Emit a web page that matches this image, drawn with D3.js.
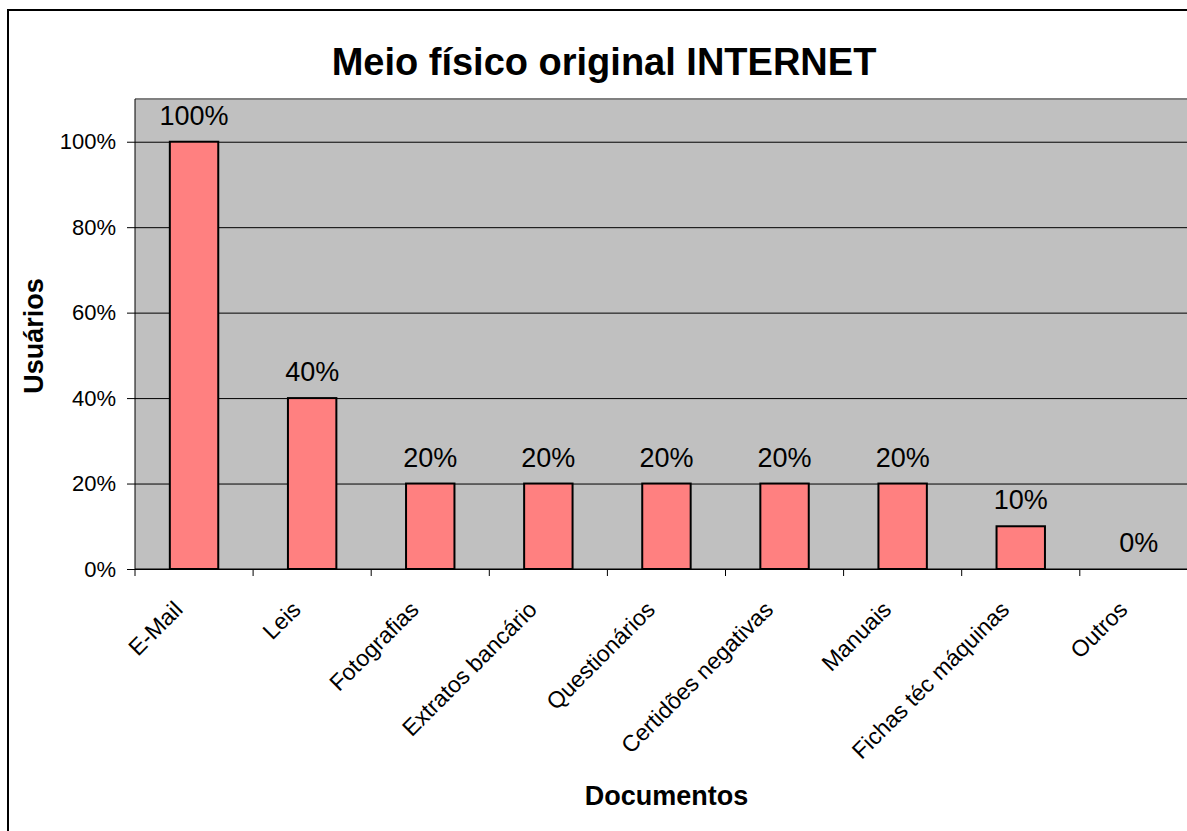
<!DOCTYPE html>
<html>
<head>
<meta charset="utf-8">
<script src="https://cdn.jsdelivr.net/npm/d3@7/dist/d3.min.js"></script>
<style>
  html, body { margin: 0; padding: 0; background: #fff; overflow: hidden; }
  svg { display: block; font-family: "Liberation Sans", Arial, sans-serif; }
</style>
</head>
<body>
<svg id="chart" width="1187" height="831"></svg>
<script>
const categories = ["E-Mail", "Leis", "Fotografias", "Extratos bancário", "Questionários",
                    "Certidões negativas", "Manuais", "Fichas téc máquinas", "Outros"];
const values = [1.00, 0.40, 0.20, 0.20, 0.20, 0.20, 0.20, 0.10, 0.00];
const yTicks = [0, 0.2, 0.4, 0.6, 0.8, 1.0];
const titleText = "Meio físico original INTERNET";
const yTitle = "Usuários";
const xTitle = "Documentos";

(function () {
const svg = d3.select("#chart");

// outer chart border
svg.append("rect").attr("x", 8).attr("y", 10).attr("width", 1300).attr("height", 1000)
  .attr("fill", "#fff").attr("stroke", "#000").attr("stroke-width", 2);

const pLeft = 135, pTop = 99, pBottom = 569;
const bandW = 118.1;
const pRight = pLeft + bandW * categories.length;

const x = d3.scaleBand().domain(categories).range([pLeft, pRight]).padding(0);
const y = d3.scaleLinear().domain([0, 1.1]).range([pBottom, pTop]);

// plot area
svg.append("rect").attr("x", pLeft).attr("y", pTop).attr("width", pRight - pLeft).attr("height", pBottom - pTop)
  .attr("fill", "#c0c0c0");
svg.append("line").attr("x1", pLeft).attr("x2", pRight).attr("y1", pTop).attr("y2", pTop)
  .attr("stroke", "#808080").attr("stroke-width", 2);

// gridlines
svg.append("g").attr("transform", `translate(${pLeft},0)`)
  .call(d3.axisLeft(y).tickValues(yTicks).tickSize(-(pRight - pLeft)).tickFormat(""))
  .call(g => g.select(".domain").remove())
  .call(g => g.selectAll("line").attr("stroke", "#000").attr("stroke-width", 1));

// y axis
svg.append("g").attr("transform", `translate(${pLeft},0)`)
  .call(d3.axisLeft(y).tickValues(yTicks).tickSize(8).tickPadding(11).tickFormat(d3.format(".0%")))
  .call(g => g.select(".domain").attr("d", `M0,${pTop}V${pBottom}`).attr("stroke", "#000"))
  .call(g => g.selectAll("line").attr("stroke", "#000"))
  .call(g => g.selectAll("text").attr("font-size", 22).attr("fill", "#000")
    .attr("font-family", "'Liberation Sans', Arial, sans-serif"));

// x axis line and boundary ticks
svg.append("line").attr("x1", pLeft).attr("x2", pRight).attr("y1", pBottom).attr("y2", pBottom)
  .attr("stroke", "#000").attr("stroke-width", 1);
const bounds = categories.map(c => x(c)).concat([x(categories[categories.length - 1]) + x.bandwidth()]);
svg.append("g").selectAll("line").data(bounds).join("line")
  .attr("x1", d => d).attr("x2", d => d).attr("y1", pBottom).attr("y2", pBottom + 7)
  .attr("stroke", "#000").attr("stroke-width", 1);

// bars
const barW = x.bandwidth() * 0.41;
const rows = categories.map((c, i) => ({c, v: values[i]}));
svg.append("g").selectAll("rect").data(rows.filter(d => d.v > 0))
  .join("rect")
  .attr("x", d => x(d.c) + x.bandwidth() / 2 - barW / 2)
  .attr("y", d => y(d.v))
  .attr("width", barW)
  .attr("height", d => y(0) - y(d.v))
  .attr("fill", "#ff8080").attr("stroke", "#000").attr("stroke-width", 2);

// value labels
svg.append("g").selectAll("text").data(rows)
  .join("text")
  .attr("x", d => x(d.c) + x.bandwidth() / 2)
  .attr("y", d => y(d.v) - 17)
  .attr("text-anchor", "middle").attr("font-size", 27).attr("fill", "#000")
  .text(d => d3.format(".0%")(d.v));

// category labels
svg.append("g").selectAll("text").data(categories).join("text")
  .attr("transform", d => `translate(${x(d) + x.bandwidth() / 2 - 10},${pBottom + 42}) rotate(-45)`)
  .attr("text-anchor", "end").attr("font-size", 23).attr("fill", "#000")
  .text(d => d);

// title
svg.append("text").attr("x", 604).attr("y", 75).attr("text-anchor", "middle")
  .attr("font-size", 38).attr("font-weight", "bold").text(titleText);

// axis titles
svg.append("text").attr("transform", `translate(43,336) rotate(-90)`).attr("text-anchor", "middle")
  .attr("font-size", 27).attr("font-weight", "bold").text(yTitle);
svg.append("text").attr("x", (pLeft + pRight) / 2).attr("y", 805).attr("text-anchor", "middle")
  .attr("font-size", 27).attr("font-weight", "bold").text(xTitle);
})();
</script>
</body>
</html>
